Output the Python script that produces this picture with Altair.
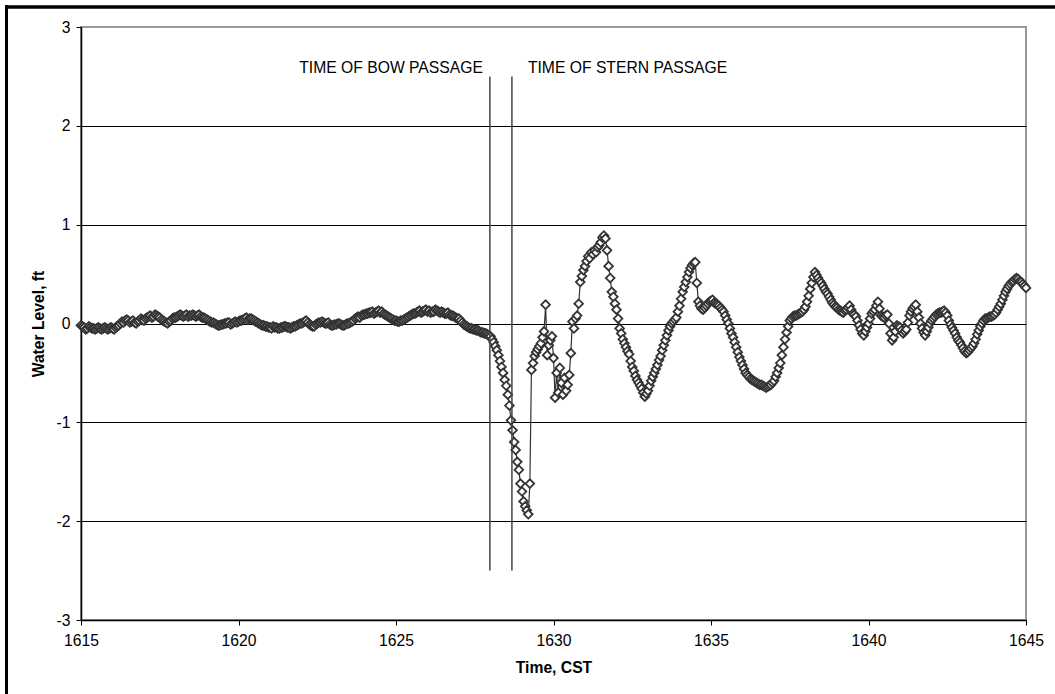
import altair as alt
import pandas as pd

# Water level readings (ft), one list per segment
seg_a_start, seg_a_step = 1615.0, 0.05
seg_a = [
    # 1615
    -0.02, -0.03, -0.04, -0.06, -0.05, -0.03, -0.04, -0.05, -0.05, -0.06,
    -0.05, -0.04, -0.05, -0.06, -0.05, -0.04, -0.05, -0.06, -0.05, -0.04,
    # 1616
    -0.05, -0.06, -0.04, -0.03, -0.02, 0.00, 0.02, 0.01, 0.03, 0.04,
    0.03, 0.01, 0.02, 0.03, 0.01, 0.00, 0.02, 0.03, 0.05, 0.04,
    # 1617
    0.03, 0.05, 0.06, 0.07, 0.08, 0.06, 0.07, 0.09, 0.08, 0.07,
    0.06, 0.04, 0.03, 0.02, 0.01, 0.00, 0.02, 0.03, 0.05, 0.06,
    # 1618
    0.06, 0.07, 0.08, 0.09, 0.08, 0.07, 0.08, 0.09, 0.07, 0.08,
    0.08, 0.09, 0.08, 0.07, 0.08, 0.09, 0.07, 0.06, 0.06, 0.05,
    # 1619
    0.04, 0.03, 0.02, 0.01, 0.01, 0.00, -0.01, -0.02, -0.02, -0.01,
    -0.01, 0.00, 0.00, 0.01, 0.01, -0.01, 0.00, 0.01, 0.02, 0.01,
    # 1620
    0.02, 0.03, 0.03, 0.04, 0.05, 0.06, 0.04, 0.05, 0.05, 0.04,
    0.03, 0.02, 0.01, 0.00, -0.01, -0.02, -0.02, -0.03, -0.03, -0.04,
    # 1621
    -0.04, -0.05, -0.03, -0.04, -0.04, -0.05, -0.05, -0.04, -0.04, -0.03,
    -0.03, -0.04, -0.04, -0.05, -0.04, -0.03, -0.03, -0.02, -0.01, 0.00,
    # 1622
    0.00, 0.01, 0.02, 0.03, 0.01, -0.01, -0.02, -0.03, -0.03, -0.01,
    0.00, 0.01, 0.01, 0.02, 0.01, 0.00, 0.00, 0.01, -0.01, -0.02,
    # 1623
    -0.02, -0.01, -0.01, 0.00, 0.00, -0.01, -0.02, -0.02, -0.01, 0.00,
    0.00, 0.01, 0.02, 0.03, 0.05, 0.06, 0.07, 0.06, 0.08, 0.09,
    # 1624
    0.09, 0.10, 0.10, 0.11, 0.11, 0.12, 0.10, 0.11, 0.12, 0.13,
    0.11, 0.12, 0.10, 0.09, 0.08, 0.07, 0.06, 0.05, 0.04, 0.03,
    # 1625
    0.03, 0.02, 0.02, 0.03, 0.03, 0.04, 0.05, 0.06, 0.07, 0.08,
    0.09, 0.10, 0.10, 0.11, 0.12, 0.13, 0.11, 0.12, 0.13, 0.14,
    # 1626
    0.12, 0.13, 0.11, 0.12, 0.12, 0.14, 0.13, 0.12, 0.11, 0.12,
    0.11, 0.10, 0.10, 0.11, 0.09, 0.08, 0.08, 0.07, 0.06, 0.05,
    # 1627
    0.05, 0.03, 0.01, -0.01, -0.02, -0.03, -0.04, -0.05, -0.05, -0.06,
    -0.06, -0.07, -0.07, -0.08, -0.09, -0.09, -0.10, -0.10, -0.11, -0.12,
]
seg_b_start, seg_b_step = 1628.0, 0.05
seg_b = [
    # 1628
    -0.13, -0.16, -0.19, -0.23, -0.27, -0.32, -0.38, -0.44, -0.50, -0.57,
    -0.63, -0.72, -0.83, -0.98, -1.08, -1.20, -1.28, -1.40, -1.48, -1.62,
    # 1629
    -1.70, -1.80, -1.85, -1.89, -1.93, -1.62, -0.47, -0.40, -0.33, -0.29,
    -0.26, -0.23, -0.20, -0.14, -0.08, 0.19, -0.32, -0.22, -0.17, -0.13,
    # 1630
    -0.35, -0.75, -0.50, -0.70, -0.45, -0.60, -0.72, -0.55, -0.68, -0.62,
    -0.52, -0.30, 0.02, -0.05, 0.05, 0.08, 0.20, 0.42, 0.48, 0.54,
]
seg_c_start, seg_c_step = 1631.0, 0.05
seg_c = [
    # 1631
    0.58, 0.63, 0.68, 0.66, 0.72, 0.70, 0.74, 0.72, 0.77, 0.79,
    0.82, 0.87, 0.89, 0.86, 0.74, 0.58, 0.46, 0.32, 0.27, 0.20,
    # 1632
    0.14, 0.05, -0.05, -0.10, -0.16, -0.20, -0.24, -0.28, -0.31, -0.38,
    -0.44, -0.48, -0.53, -0.57, -0.60, -0.63, -0.66, -0.70, -0.74, -0.71,
    # 1633
    -0.68, -0.63, -0.58, -0.54, -0.50, -0.46, -0.42, -0.37, -0.33, -0.27,
    -0.22, -0.17, -0.12, -0.07, -0.03, 0.00, 0.02, 0.04, 0.06, 0.12,
    # 1634
    0.18, 0.25, 0.32, 0.37, 0.42, 0.47, 0.52, 0.56, 0.59, 0.61,
    0.62, 0.41, 0.22, 0.18, 0.15, 0.14, 0.16, 0.18, 0.20, 0.22,
    # 1635
    0.23, 0.24, 0.21, 0.20, 0.19, 0.18, 0.16, 0.14, 0.12, 0.08,
    0.04, 0.00, -0.05, -0.10, -0.14, -0.19, -0.24, -0.29, -0.34, -0.38,
    # 1636
    -0.42, -0.46, -0.50, -0.52, -0.54, -0.56, -0.57, -0.58, -0.59, -0.60,
    -0.61, -0.62, -0.62, -0.63, -0.64, -0.65, -0.64, -0.63, -0.62, -0.60,
    # 1637
    -0.58, -0.54, -0.50, -0.45, -0.40, -0.32, -0.24, -0.16, -0.09, -0.03,
    0.03, 0.05, 0.07, 0.08, 0.08, 0.09, 0.10, 0.11, 0.12, 0.14,
    # 1638
    0.17, 0.22, 0.28, 0.35, 0.41, 0.47, 0.52, 0.49, 0.46, 0.43,
    0.41, 0.38, 0.35, 0.32, 0.30, 0.27, 0.24, 0.21, 0.19, 0.17,
    # 1639
    0.16, 0.14, 0.13, 0.12, 0.11, 0.13, 0.14, 0.16, 0.18, 0.14,
    0.10, 0.09, 0.07, 0.03, -0.02, -0.06, -0.10, -0.12, -0.08, -0.04,
    # 1640
    0.00, 0.05, 0.10, 0.12, 0.14, 0.18, 0.22, 0.15, 0.08, 0.07,
    0.06, 0.08, 0.09, 0.00, -0.10, -0.17, -0.14, -0.08, -0.02, -0.03,
    # 1641
    -0.04, -0.07, -0.10, -0.08, -0.06, 0.01, 0.08, 0.12, 0.15, 0.17,
    0.19, 0.12, 0.06, 0.00, -0.05, -0.09, -0.12, -0.08, -0.04, 0.00,
    # 1642
    0.03, 0.05, 0.07, 0.09, 0.10, 0.11, 0.11, 0.12, 0.13, 0.11,
    0.08, 0.03, -0.01, -0.04, -0.07, -0.10, -0.14, -0.17, -0.19, -0.22,
    # 1643
    -0.25, -0.28, -0.30, -0.29, -0.27, -0.25, -0.23, -0.20, -0.16, -0.11,
    -0.07, -0.03, 0.00, 0.03, 0.05, 0.05, 0.06, 0.07, 0.07, 0.08,
    # 1644
    0.09, 0.11, 0.14, 0.17, 0.20, 0.24, 0.28, 0.32, 0.35, 0.38,
    0.40, 0.42, 0.43, 0.45, 0.46, 0.45, 0.43, 0.42, 0.40, 0.38,
    # 1645
    0.36,
]

event_labels = ["TIME OF BOW PASSAGE", "TIME OF STERN PASSAGE"]
event_times = [1627.98, 1628.68]

x_ticks = [1615, 1620, 1625, 1630, 1635, 1640, 1645]
y_ticks = [-3, -2, -1, 0, 1, 2, 3]

times, levels = [], []
for start, step, vals in [(seg_a_start, seg_a_step, seg_a),
                          (seg_b_start, seg_b_step, seg_b),
                          (seg_c_start, seg_c_step, seg_c)]:
    for i, v in enumerate(vals):
        times.append(round(start + i * step, 3))
        levels.append(v)

df = pd.DataFrame({"t": times, "v": levels})
ev = pd.DataFrame({"t": event_times, "label": event_labels})

FONT = "Liberation Sans"
FS = 15.7

xscale = alt.Scale(domain=[1615, 1645], nice=False, zero=False)
yscale = alt.Scale(domain=[-3, 3], nice=False)

xaxis = alt.Axis(values=x_ticks, labelExpr="'' + datum.value", title="Time, CST", grid=False,
                 labelFont=FONT, labelFontSize=FS, labelColor="black",
                 titleFont=FONT, titleFontSize=FS, titleFontWeight="bold", titleColor="black",
                 tickSize=5, tickColor="black", domainColor="black", domainWidth=1.5,
                 labelPadding=8, titlePadding=13, labelFlush=False, labelOverlap=False)
yaxis = alt.Axis(values=y_ticks, labelExpr="'' + datum.value", title="Water Level, ft", grid=True,
                 gridColor={"condition": {"test": "datum.value === 3", "value": "#999999"}, "value": "black"},
                 gridWidth=1,
                 labelFont=FONT, labelFontSize=FS, labelColor="black",
                 titleFont=FONT, titleFontSize=FS, titleFontWeight="bold", titleColor="black",
                 tickSize=5, tickColor="black", domainColor="black", domainWidth=1.5,
                 labelPadding=6, titlePadding=10, labelFlush=False, labelOverlap=False)

base = alt.Chart(df)
line = base.mark_line(color="#333333", strokeWidth=1.2).encode(
    x=alt.X("t:Q", scale=xscale, axis=xaxis),
    y=alt.Y("v:Q", scale=yscale, axis=yaxis),
)
pts = base.mark_point(shape="diamond", size=75, filled=False, fill="white", fillOpacity=1,
                      stroke="#333333", strokeWidth=1.8, opacity=1).encode(
    x=alt.X("t:Q", scale=xscale),
    y=alt.Y("v:Q", scale=yscale),
)

rules = alt.Chart(ev).mark_rule(color="#444444", strokeWidth=1.5).encode(
    x=alt.X("t:Q", scale=xscale),
    y=alt.datum(-2.5),
    y2=alt.datum(2.5),
)
bow_text = alt.Chart(ev).transform_filter(alt.datum.label == event_labels[0]).mark_text(
    align="right", baseline="alphabetic", dx=-7, font=FONT, fontSize=FS, color="black"
).encode(x=alt.X("t:Q", scale=xscale), y=alt.value(46), text="label:N")
stern_text = alt.Chart(ev).transform_filter(alt.datum.label == event_labels[1]).mark_text(
    align="left", baseline="alphabetic", dx=16, font=FONT, fontSize=FS, color="black"
).encode(x=alt.X("t:Q", scale=xscale), y=alt.value(46), text="label:N")

frame_top = alt.Chart(ev).mark_rule(color="black", strokeWidth=3).encode(
    x=alt.value(-76), x2=alt.value(1100), y=alt.value(-20))
frame_left = alt.Chart(ev).mark_rule(color="black", strokeWidth=3).encode(
    x=alt.value(-74.5), y=alt.value(-21.5), y2=alt.value(700))

chart = alt.layer(line, pts, rules, bow_text, stern_text, frame_top, frame_left).properties(
    width=945, height=593,
    autosize=alt.AutoSizeParams(type="none"),
    padding={"left": 81, "top": 27, "right": 29, "bottom": 74},
    background="white",
).configure_view(stroke="#999999", strokeWidth=2)

chart.save("out.html", embed_options={"renderer": "svg", "actions": False})
